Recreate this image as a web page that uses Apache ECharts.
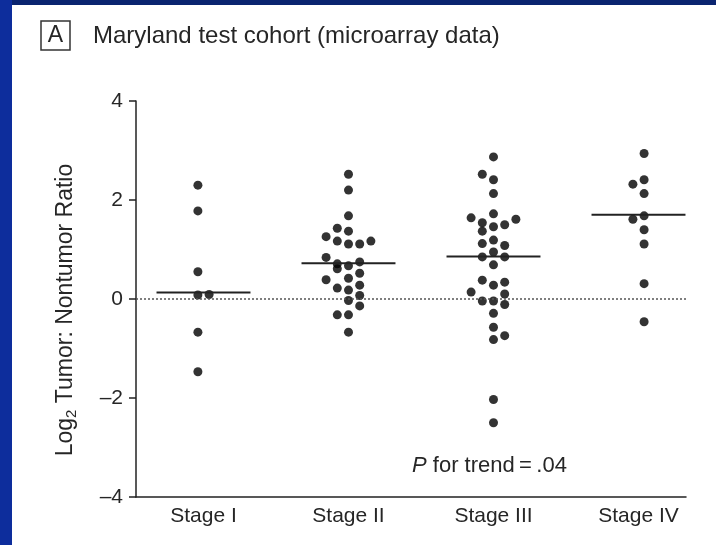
<!DOCTYPE html>
<html>
<head>
<meta charset="utf-8">
<script src="https://cdn.jsdelivr.net/npm/echarts@6/dist/echarts.min.js"></script>
<style>
  html, body { margin: 0; padding: 0; background: #ffffff; }
  #chart { width: 716px; height: 545px; }
</style>
</head>
<body>
<div id="chart"></div>
<script>
// Stage labels along the x axis
const stages = ['Stage I', 'Stage II', 'Stage III', 'Stage IV'];

// Log2 tumor:nontumor ratios per stage
const stageIValues = [2.30, 1.78, 0.55, 0.08, 0.09, -0.67, -1.47];
const stageIIValues = [2.52, 2.20, 1.68, 1.43, 1.37, 1.26, 1.17, 1.11, 1.11, 1.17,
  0.84, 0.71, 0.61, 0.67, 0.75, 0.52, 0.39, 0.42, 0.22, 0.18, 0.28, 0.07,
  -0.03, -0.14, -0.32, -0.32, -0.67];
const stageIIIValues = [2.87, 2.52, 2.41, 2.13, 1.72, 1.64, 1.61, 1.54, 1.46, 1.50,
  1.37, 1.12, 1.19, 1.08, 0.95, 0.85, 0.85, 0.69, 0.38, 0.28, 0.34, 0.14,
  0.10, -0.04, -0.04, -0.11, -0.29, -0.57, -0.74, -0.82, -2.03, -2.50];
const stageIVValues = [2.94, 2.41, 2.32, 2.13, 1.68, 1.61, 1.40, 1.11, 0.31, -0.46];

// Swarm column of each point (column index within its stage)
const stageICols = [-0.5, -0.5, -0.5, -0.5, 0.5, -0.5, -0.5];
const stageIICols = [0, 0, 0, -1, 0, -2, -1, 0, 1, 2,
  -2, -1, -1, 0, 1, 1, -2, 0, -1, 0, 1, 1,
  0, 1, -1, 0, 0];
const stageIIICols = [0, -1, 0, 0, 0, -2, 2, -1, 0, 1,
  -1, -1, 0, 1, 0, -1, 1, 0, -1, 0, 1, -2,
  1, -1, 0, 1, 0, 0, 1, 0, 0, 0];
const stageIVCols = [0.5, 0.5, -0.5, 0.5, 0.5, -0.5, 0.5, 0.5, 0.5, 0.5];

// Median of each stage
const medians = [0.13, 0.72, 0.86, 1.70];

// Y axis ticks
const yTicks = [-4, -2, 0, 2, 4];

const FONT = "'Liberation Sans', Arial, sans-serif";
const TEXT = '#262626';
const COL_STEP = 0.0772;   // width of one swarm column, in category units
const MEDIAN_HALF = 0.324; // half length of a median bar

const valueSets = [stageIValues, stageIIValues, stageIIIValues, stageIVValues];
const colSets = [stageICols, stageIICols, stageIIICols, stageIVCols];
const points = [];
valueSets.forEach((vals, s) => {
  vals.forEach((v, k) => points.push([s + 1 + colSets[s][k] * COL_STEP, v]));
});

const chart = echarts.init(document.getElementById('chart'), null, { renderer: 'canvas' });

chart.setOption({
  animation: false,
  backgroundColor: '#ffffff',
  grid: { left: 136, right: 30, top: 101, bottom: 48 },
  xAxis: {
    type: 'value',
    min: 0.5345,
    max: 4.3276,
    splitLine: { show: false },
    axisLine: { onZero: false, lineStyle: { color: '#222', width: 1.5 } },
    axisTick: { show: false },
    axisLabel: {
      customValues: [1, 2, 3, 4],
      formatter: v => stages[Math.round(v) - 1] || '',
      color: TEXT,
      fontFamily: FONT,
      fontSize: 21,
      margin: 9
    }
  },
  yAxis: {
    type: 'value',
    min: yTicks[0],
    max: yTicks[yTicks.length - 1],
    interval: 2,
    splitLine: { show: false },
    axisLine: { onZero: false, lineStyle: { color: '#222', width: 1.5 } },
    axisTick: { show: true, length: 7, lineStyle: { color: '#222', width: 1.5 } },
    axisLabel: {
      formatter: v => (v < 0 ? '\u2013' + Math.abs(v) : String(v)),
      color: TEXT,
      fontFamily: FONT,
      fontSize: 21,
      margin: 13
    }
  },
  series: [
    {
      type: 'scatter',
      data: points,
      symbol: 'circle',
      symbolSize: 9,
      itemStyle: { color: '#000000' },
      z: 3,
      markLine: {
        silent: true,
        symbol: ['none', 'none'],
        label: { show: false },
        lineStyle: { color: '#555', width: 1.5, type: [2, 2] },
        data: [{ yAxis: 0 }]
      }
    },
    {
      type: 'custom',
      data: medians.map((m, i) => [i + 1, m]),
      z: 4,
      renderItem: (params, api) => {
        const x = api.value(0);
        const y = api.value(1);
        const p1 = api.coord([x - MEDIAN_HALF, y]);
        const p2 = api.coord([x + MEDIAN_HALF, y]);
        return {
          type: 'line',
          shape: { x1: p1[0], y1: p1[1], x2: p2[0], y2: p2[1] },
          style: { stroke: '#222', lineWidth: 2 }
        };
      }
    }
  ],
  graphic: [
    // frame strips
    { type: 'rect', left: 0, top: 0, shape: { width: 716, height: 5 }, style: { fill: '#0a2470' }, z: 10 },
    { type: 'rect', left: 0, top: 0, shape: { width: 12, height: 545 }, style: { fill: '#0d2d9c' }, z: 10 },
    // panel label
    { type: 'rect', shape: { x: 41, y: 21, width: 29, height: 29 }, style: { fill: 'none', stroke: '#333', lineWidth: 1.5 } },
    { type: 'text', x: 55.5, y: 36, style: { text: 'A', font: '23px ' + FONT, fill: TEXT, align: 'center', verticalAlign: 'middle' } },
    { type: 'text', x: 93, y: 36, style: { text: 'Maryland test cohort (microarray data)', font: '24px ' + FONT, fill: TEXT, align: 'left', verticalAlign: 'middle' } },
    // y axis title
    {
      type: 'text', x: 66, y: 310, rotation: Math.PI / 2,
      style: {
        text: '{a|Log}{s|2}{a| Tumor: Nontumor Ratio}',
        align: 'center', verticalAlign: 'middle',
        rich: {
          a: { fontSize: 23, fontFamily: FONT, fill: TEXT, color: TEXT },
          s: { fontSize: 15, fontFamily: FONT, fill: TEXT, color: TEXT, padding: [12, 0, 0, 0] }
        }
      }
    },
    // trend test annotation
    {
      type: 'text', x: 412, y: 466,
      style: {
        text: '{i|P}{a| for trend\u2009=\u2009.04}',
        align: 'left', verticalAlign: 'middle',
        rich: {
          i: { fontSize: 22, fontFamily: FONT, fontStyle: 'italic', fill: TEXT, color: TEXT },
          a: { fontSize: 22, fontFamily: FONT, fill: TEXT, color: TEXT }
        }
      }
    }
  ]
});
</script>
</body>
</html>
